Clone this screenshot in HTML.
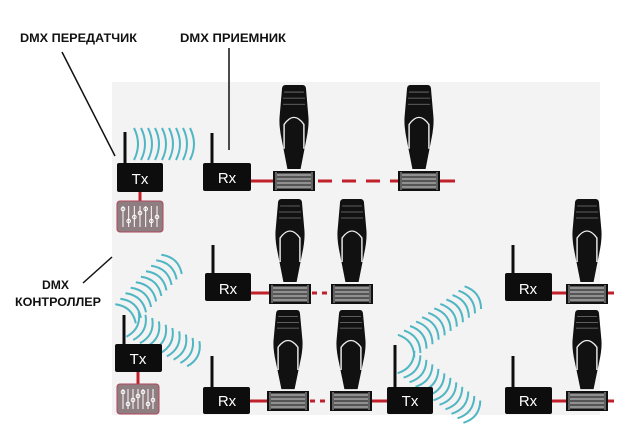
<!DOCTYPE html>
<html><head><meta charset="utf-8"><style>
html,body{margin:0;padding:0;background:#fff;width:640px;height:443px;overflow:hidden}
svg{display:block}
.lbl{font-family:"Liberation Sans","DejaVu Sans",sans-serif;font-weight:bold;font-size:12px;fill:#111}
.bx{font-family:"Liberation Sans",sans-serif;font-size:15px;fill:#fff}
</style></head><body>
<svg id="s" width="640" height="443" viewBox="0 0 640 443" xmlns="http://www.w3.org/2000/svg">
<rect x="112" y="82" width="488" height="333" fill="#f3f3f3"/>
<text class="lbl" x="20" y="42" textLength="117" lengthAdjust="spacingAndGlyphs">DMX ПЕРЕДАТЧИК</text>
<text class="lbl" x="180" y="42" textLength="106" lengthAdjust="spacingAndGlyphs">DMX ПРИЕМНИК</text>
<text class="lbl" x="42" y="289" textLength="27" lengthAdjust="spacingAndGlyphs">DMX</text>
<text class="lbl" x="15" y="306" textLength="86" lengthAdjust="spacingAndGlyphs">КОНТРОЛЛЕР</text>
<g stroke="#111" stroke-width="1.5" fill="none">
<line x1="62" y1="52" x2="115" y2="156"/>
<line x1="229" y1="48" x2="229" y2="150"/>
<line x1="83" y1="283" x2="112" y2="257"/>
</g>
<g id="red" stroke="#c0202a" stroke-width="3" fill="none">
<line x1="251" y1="181" x2="275" y2="181"/>
<line x1="318" y1="181" x2="398" y2="181" stroke-dasharray="14 10"/>
<line x1="440" y1="181" x2="455" y2="181"/>
<line x1="250" y1="293" x2="270" y2="293"/>
<line x1="312" y1="293" x2="333" y2="293" stroke-dasharray="5 5"/>
<line x1="552" y1="293" x2="568" y2="293"/>
<line x1="606" y1="293" x2="614" y2="293"/>
<line x1="250" y1="401" x2="268" y2="401"/>
<line x1="310" y1="401" x2="332" y2="401" stroke-dasharray="5 5"/>
<line x1="370" y1="401" x2="387" y2="401"/>
<line x1="552" y1="401" x2="568" y2="401"/>
<line x1="606" y1="401" x2="614" y2="401"/>
<line x1="140" y1="192" x2="140" y2="202"/>
<line x1="138" y1="372" x2="138" y2="385"/>
</g>
<g id="waves" stroke="#4fb6c4" stroke-width="2" fill="none"></g>
<g id="fx"></g>
<g id="boxes"></g>
<text class="bx" x="140" y="184" text-anchor="middle">Tx</text>
<text class="bx" x="227" y="183" text-anchor="middle">Rx</text>
<text class="bx" x="228" y="294" text-anchor="middle">Rx</text>
<text class="bx" x="528" y="294" text-anchor="middle">Rx</text>
<text class="bx" x="138" y="364" text-anchor="middle">Tx</text>
<text class="bx" x="227" y="406" text-anchor="middle">Rx</text>
<text class="bx" x="410" y="406" text-anchor="middle">Tx</text>
<text class="bx" x="528" y="406" text-anchor="middle">Rx</text>
</svg>
<script>
var NS="http://www.w3.org/2000/svg";
function el(p,t,a){var e=document.createElementNS(NS,t);for(var k in a)e.setAttribute(k,a[k]);p.appendChild(e);return e;}
var W=document.getElementById('waves');
for(var x=134;x<=196;x+=7){el(W,'path',{d:'M'+x+',128 Q'+(x+8)+',144 '+x+',160'});}
function fan(cx,cy,ang,d0,n,half,st){
 var a=ang*Math.PI/180,ux=Math.cos(a),uy=Math.sin(a),nx=-uy,ny=ux;
 for(var i=0;i<n;i++){var d=d0+i*st;var px=cx+d*ux,py=cy+d*uy;
  var x0=px-half*nx,y0=py-half*ny,x1=px+half*nx,y1=py+half*ny,qx=px+10*ux,qy=py+10*uy;
  el(W,'path',{d:'M'+x0.toFixed(1)+','+y0.toFixed(1)+' Q'+qx.toFixed(1)+','+qy.toFixed(1)+' '+x1.toFixed(1)+','+y1.toFixed(1)});}
}
fan(116,324,-47,14,10,14,7.5);
fan(120,318,26,14,10,14,7.5);
fan(398,352,-36,10,12,14,7.5);
fan(398,356,37,10,12,14,7.5);
var F=document.getElementById('fx');
function fixture(cx,by,h){
 var g=el(F,'g',{transform:'translate('+cx+','+by+') scale(1.1,'+(h/85)+')'});
 el(g,'path',{d:'M-8,-85 L8,-85 Q11,-85 11,-80 L13,-55 Q14,-45 11,-30 L6,-2 L-6,-2 L-11,-30 Q-14,-45 -13,-55 L-11,-80 Q-11,-85 -8,-85 Z',fill:'#111'});
 el(g,'path',{d:'M-9,-22 L-9,-46 Q0,-60 9,-46 L9,-22',fill:'none',stroke:'#eee','stroke-width':1.3});
 el(g,'path',{d:'M-9,-78 L9,-78 M-10,-72 L10,-72 M-10,-66 L10,-66',stroke:'#777','stroke-width':0.8});
 var b=el(F,'g',{transform:'translate('+cx+','+by+')'});
 el(b,'rect',{x:-21,y:0,width:42,height:20,fill:'#111'});
 el(b,'rect',{x:-17,y:2,width:34,height:16,fill:'#555'});
 for(var i=0;i<4;i++)el(b,'line',{x1:-17,x2:17,y1:4+i*4,y2:4+i*4,stroke:'#ccc','stroke-width':0.9});
 el(b,'line',{x1:-18,x2:-18,y1:1,y2:19,stroke:'#ddd','stroke-width':0.8});
 el(b,'line',{x1:18,x2:18,y1:1,y2:19,stroke:'#ddd','stroke-width':0.8});
}
fixture(294,171,86);fixture(419,171,86);
fixture(290,284,85);fixture(352,284,85);fixture(587,284,85);
fixture(288,391,81);fixture(351,391,81);fixture(587,391,81);
var B=document.getElementById('boxes');
function box(x,y,w,h,ax,at){el(B,'rect',{x:x,y:y,width:w,height:h,rx:2,fill:'#0d0d0d'});el(B,'rect',{x:ax-1.5,y:at,width:3,height:y-at+1,fill:'#0d0d0d'});}
box(117,163,46,29,125,132);
box(203,163,48,28,212,133);
box(205,273,46,28,213,245);
box(505,273,47,28,513,245);
box(115,344,47,28,124,315);
box(203,387,47,27,212,356);
box(387,387,46,27,395,345);
box(505,387,47,27,513,356);
function ctrl(x,y,w,h){
 el(B,'rect',{x:x,y:y,width:w,height:h,rx:3,fill:'#8e7e82',stroke:'#b0465a','stroke-width':1});
 for(var i=0;i<7;i++){var lx=x+6+i*(w-12)/6;el(B,'line',{x1:lx,x2:lx,y1:y+5,y2:y+h-5,stroke:'#fff','stroke-width':1});
  el(B,'circle',{cx:lx,cy:y+8+((i*7)%4)*4,r:1.8,fill:'none',stroke:'#fff','stroke-width':1});}
}
ctrl(117,201,46,31);ctrl(117,384,42,30);
</script>
</body></html>
